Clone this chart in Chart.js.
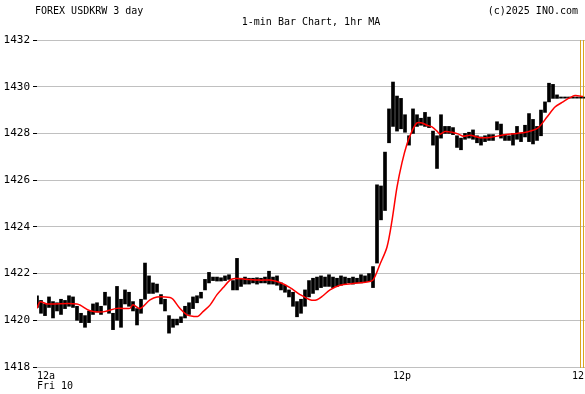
<!DOCTYPE html>
<html>
<head>
<meta charset="utf-8">
<script src="https://cdn.jsdelivr.net/npm/chart.js@4"></script>
<style>
  body { margin: 0; background: #fff; }
  canvas { display: block; }
</style>
</head>
<body>
<canvas id="fxChart" width="585" height="394"></canvas>
<script>
// 1-min bars, sampled every STEP minutes (x axis units)
const STEP = 8;

const barLows = [
    1420.55, 1420.30, 1420.20, 1420.55, 1420.10, 1420.40, 1420.25, 1420.50, 1420.60, 1420.55,
    1420.00, 1419.90, 1419.70, 1419.90, 1420.25, 1420.35, 1420.25, 1420.65, 1420.30, 1419.60,
    1420.00, 1419.70, 1420.70, 1420.60, 1420.40, 1419.80, 1420.30, 1420.90, 1421.15, 1421.15,
    1421.20, 1420.70, 1420.40, 1419.45, 1419.70, 1419.80, 1419.90, 1420.10, 1420.25, 1420.50,
    1420.75, 1420.95, 1421.30, 1421.60, 1421.70, 1421.68, 1421.68, 1421.70, 1421.75, 1421.30,
    1421.30, 1421.45, 1421.55, 1421.55, 1421.60, 1421.55, 1421.60, 1421.60, 1421.55, 1421.55,
    1421.50, 1421.30, 1421.20, 1421.00, 1420.60, 1420.15, 1420.30, 1420.60, 1421.00, 1421.15,
    1421.30, 1421.40, 1421.45, 1421.45, 1421.40, 1421.45, 1421.50, 1421.55, 1421.60, 1421.55,
    1421.60, 1421.60, 1421.65, 1421.65, 1421.40, 1422.45, 1424.30, 1424.70, 1427.60, 1428.30,
    1428.10, 1428.20, 1428.05, 1427.50, 1428.00, 1428.30, 1428.35, 1428.30, 1428.25, 1427.50,
    1426.50, 1427.80, 1428.00, 1428.00, 1427.95, 1427.40, 1427.30, 1427.75, 1427.80, 1427.75,
    1427.60, 1427.50, 1427.65, 1427.70, 1427.70, 1428.15, 1427.80, 1427.70, 1427.70, 1427.50,
    1427.75, 1427.65, 1427.85, 1427.65, 1427.55, 1427.70, 1427.90, 1428.90, 1429.35, 1429.50,
    1429.50, 1429.51, 1429.51, 1429.51, 1429.51, 1429.51, 1429.51, 1429.51
];

const barHighs = [
    1421.05, 1420.85, 1420.70, 1421.00, 1420.80, 1420.75, 1420.90, 1420.85, 1421.05, 1421.00,
    1420.60, 1420.30, 1420.20, 1420.40, 1420.70, 1420.75, 1420.60, 1421.20, 1421.00, 1420.30,
    1421.45, 1420.90, 1421.30, 1421.20, 1420.80, 1420.50, 1420.90, 1422.45, 1421.90, 1421.60,
    1421.55, 1421.10, 1420.90, 1420.20, 1420.05, 1420.05, 1420.15, 1420.60, 1420.75, 1421.00,
    1421.05, 1421.20, 1421.75, 1422.05, 1421.85, 1421.85, 1421.82, 1421.90, 1421.95, 1421.70,
    1422.65, 1421.80, 1421.85, 1421.80, 1421.80, 1421.82, 1421.80, 1421.85, 1422.10, 1421.85,
    1421.90, 1421.60, 1421.50, 1421.30, 1421.20, 1420.80, 1420.90, 1421.30, 1421.70, 1421.80,
    1421.85, 1421.90, 1421.85, 1421.95, 1421.85, 1421.80, 1421.90, 1421.85, 1421.80, 1421.85,
    1421.80, 1421.95, 1421.90, 1422.00, 1422.30, 1425.80, 1425.75, 1427.20, 1429.05, 1430.20,
    1429.60, 1429.50, 1428.80, 1427.90, 1429.05, 1428.80, 1428.65, 1428.90, 1428.70, 1428.10,
    1427.90, 1428.80, 1428.30, 1428.30, 1428.25, 1427.90, 1427.80, 1428.00, 1428.05, 1428.15,
    1427.90, 1427.85, 1427.90, 1427.95, 1427.95, 1428.50, 1428.40, 1427.95, 1427.90, 1428.00,
    1428.30, 1428.00, 1428.35, 1428.85, 1428.60, 1428.30, 1429.00, 1429.35, 1430.15, 1430.10,
    1429.65, 1429.56, 1429.56, 1429.56, 1429.56, 1429.56, 1429.56, 1429.56
];

// 1hr moving average, read at these x positions
const maTimes = [
    0, 6, 20, 80, 106, 132, 160, 186, 192, 206, 226, 240, 266, 272, 286, 300, 312, 322, 332, 346,
    360, 372, 386, 396, 416, 446, 466, 486, 506, 526, 546, 560, 572, 586, 606, 632, 660, 672, 686, 700,
    710, 720, 730, 740, 750, 760, 770, 780, 790, 800, 806, 816, 830, 842, 852, 866, 886, 906, 932, 960,
    982, 1002, 1020, 1036, 1052, 1066, 1076, 1092
];
const maValues = [
    1420.51, 1420.79, 1420.70, 1420.70, 1420.41, 1420.36, 1420.51, 1420.51, 1420.66, 1420.50,
    1420.87, 1421.00, 1420.98, 1420.90, 1420.50, 1420.23, 1420.17, 1420.17, 1420.37, 1420.65,
    1421.10, 1421.39, 1421.72, 1421.79, 1421.76, 1421.72, 1421.72, 1421.62, 1421.40, 1421.10,
    1420.88, 1420.88, 1421.05, 1421.30, 1421.50, 1421.57, 1421.64, 1421.72, 1422.40, 1423.14,
    1424.27, 1425.70, 1426.75, 1427.55, 1428.10, 1428.45, 1428.45, 1428.35, 1428.28, 1428.10,
    1427.97, 1428.08, 1428.05, 1427.98, 1427.88, 1427.92, 1427.82, 1427.83, 1427.93, 1428.00,
    1428.07, 1428.24, 1428.70, 1429.13, 1429.35, 1429.53, 1429.62, 1429.58
];

const xTickTimes = [0, 712, 1070];
const xTickLabels = [['12a', 'Fri 10'], '12p', '12'];
const yTicks = [1418, 1420, 1422, 1424, 1426, 1428, 1430, 1432];
const sessionBreaks = [1085, 1091];

const barData = barLows.map((lo, i) => ({ x: i * STEP, y: [lo, barHighs[i]] }));
const maData = maTimes.map((t, i) => ({ x: t, y: maValues[i] }));

Chart.defaults.font.family = '"DejaVu Sans Mono", monospace';
Chart.defaults.color = '#000';

// header texts and the orange session lines
const decorations = {
    id: 'decorations',
    beforeDatasetsDraw(chart) {
        const { ctx, chartArea, scales } = chart;
        ctx.save();
        ctx.strokeStyle = '#daa520';
        ctx.lineWidth = 1;
        sessionBreaks.forEach(t => {
            const px = Math.round(scales.x.getPixelForValue(t)) + 0.5;
            ctx.beginPath();
            ctx.moveTo(px, chartArea.top);
            ctx.lineTo(px, chartArea.bottom + 1);
            ctx.stroke();
        });
        ctx.restore();
    },
    afterDraw(chart) {
        const { ctx, chartArea } = chart;
        ctx.save();
        ctx.fillStyle = '#000';
        ctx.font = '10px "DejaVu Sans Mono"';
        ctx.textBaseline = 'alphabetic';
        ctx.textAlign = 'left';
        ctx.fillText('FOREX USDKRW 3 day', 35, 14);
        ctx.textAlign = 'right';
        ctx.fillText('(c)2025 INO.com', 578, 14);
        ctx.textAlign = 'center';
        ctx.fillText('1-min Bar Chart, 1hr MA', (chartArea.left + chartArea.right) / 2, 25);
        ctx.restore();
    }
};

new Chart(document.getElementById('fxChart'), {
    type: 'bar',
    data: {
        datasets: [{
            type: 'line',
            data: maData,
            borderColor: '#ff0000',
            borderWidth: 1.5,
            pointRadius: 0,
            tension: 0.3,
            fill: false,
            order: 0
        }, {
            type: 'bar',
            data: barData,
            backgroundColor: '#000',
            barThickness: 3,
            borderWidth: 0,
            order: 1
        }]
    },
    options: {
        responsive: false,
        animation: false,
        layout: { padding: { top: 40, right: 0, bottom: 0, left: 0 } },
        plugins: {
            legend: { display: false },
            tooltip: { enabled: false }
        },
        scales: {
            x: {
                type: 'linear',
                min: 0,
                max: 1096,
                offset: false,
                grid: { display: false, drawTicks: false },
                border: { display: false },
                afterBuildTicks: scale => {
                    scale.ticks = xTickTimes.map(v => ({ value: v }));
                },
                afterFit: scale => {
                    scale.height = 27;
                    scale.paddingLeft = 0;
                    scale.paddingRight = 0;
                },
                ticks: {
                    autoSkip: false,
                    maxRotation: 0,
                    align: 'start',
                    padding: 4,
                    font: { size: 10, lineHeight: 1.05 },
                    callback: value => xTickLabels[xTickTimes.indexOf(value)]
                }
            },
            y: {
                min: 1418,
                max: 1432,
                grid: { color: '#c0c0c0', tickColor: '#000', tickLength: 4, lineWidth: 1 },
                border: { display: false },
                afterBuildTicks: scale => {
                    scale.ticks = yTicks.map(v => ({ value: v }));
                },
                afterFit: scale => {
                    scale.width = 37;
                },
                ticks: {
                    padding: 3,
                    font: { size: 11 },
                    callback: value => String(value)
                }
            }
        }
    },
    plugins: [decorations]
});
</script>
</body>
</html>
